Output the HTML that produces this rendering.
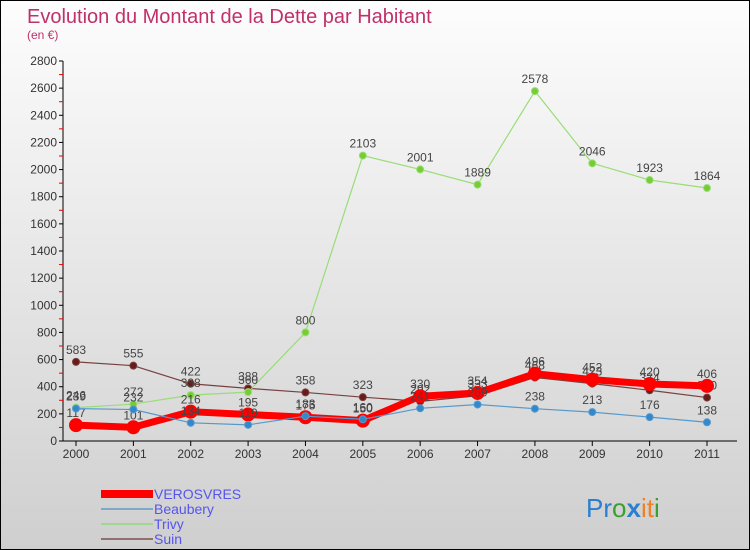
<!DOCTYPE html>
<html><head><meta charset="utf-8"><style>
body{margin:0;}
#c{width:748px;height:548px;border:1px solid #000;background:linear-gradient(#fdfdfd,#cfcfcf);position:relative;overflow:hidden;font-family:"Liberation Sans",sans-serif;}
</style></head><body>
<div id="c">
<svg id="s" width="748" height="548" xmlns="http://www.w3.org/2000/svg" font-family="Liberation Sans,sans-serif">
<text x="26" y="22" font-size="20" fill="#c0306a">Evolution du Montant de la Dette par Habitant</text>
<text x="26" y="38" font-size="12" fill="#c0306a">(en €)</text>
<g id="axes"></g><g id="series"></g>
<g>
<rect x="100" y="489" width="52" height="8" fill="#f00"/>
<text x="153" y="498" font-size="14" fill="#5555ee">VEROSVRES</text>
<line x1="100" y1="508" x2="152" y2="508" stroke="#7fa8c8" stroke-width="2"/>
<text x="153" y="513" font-size="14" fill="#5555ee">Beaubery</text>
<line x1="100" y1="523" x2="152" y2="523" stroke="#a0d890" stroke-width="2"/>
<text x="153" y="528" font-size="14" fill="#5555ee">Trivy</text>
<line x1="100" y1="538" x2="152" y2="538" stroke="#907070" stroke-width="2"/>
<text x="153" y="543" font-size="14" fill="#5555ee">Suin</text>
</g>
<text x="585" y="516" font-size="26"><tspan fill="#2a7fd0">Pr</tspan><tspan fill="#3aa030">o</tspan><tspan fill="#2a7fd0" font-weight="bold">x</tspan><tspan fill="#f08020">it</tspan><tspan fill="#3aa030">i</tspan></text>
</svg></div>
<script>
const years=["2000","2001","2002","2003","2004","2005","2006","2007","2008","2009","2010","2011"];
const yTicks=[0,200,400,600,800,1000,1200,1400,1600,1800,2000,2200,2400,2600,2800];
const verosvres=[117,101,216,195,175,150,330,354,496,452,420,406];
const beaubery=[239,232,134,119,183,160,241,269,238,213,176,138];
const trivy=[246,272,338,360,800,2103,2001,1889,2578,2046,1923,1864];
const suin=[583,555,422,388,358,323,292,333,468,423,374,320];
const NS="http://www.w3.org/2000/svg";
const X0=75,X1=706,Y0=440,Y1=60,MAX=2800;
const xs=i=>X0+i*(X1-X0)/(years.length-1);
const ys=v=>Y0-v*(Y0-Y1)/MAX;
function mk(t,a,p){const e=document.createElementNS(NS,t);for(const k in a)e.setAttribute(k,a[k]);p.appendChild(e);return e;}
const ax=document.getElementById('axes');
let yl=mk('line',{x1:62,y1:Y1,x2:62,y2:Y0,stroke:'#000'},ax);


let xl=mk('line',{x1:62,y1:Y0,x2:736,y2:Y0,stroke:'#000'},ax);


yTicks.forEach((v,i)=>{const y=ys(v);
 mk('line',{x1:58,y1:y,x2:62,y2:y,stroke:'#000'},ax);
 if(i<yTicks.length-1){mk('line',{x1:58,y1:ys(v+100),x2:62,y2:ys(v+100),stroke:'#e00'},ax);}
 const t=mk('text',{x:56,y:y+4,'font-size':12,fill:'#333','text-anchor':'end'},ax);t.textContent=v;
 
 
});
years.forEach((yr,i)=>{const x=xs(i);
 mk('line',{x1:x,y1:Y0,x2:x,y2:Y0+5,stroke:'#000'},ax);
 const t=mk('text',{x:x,y:Y0+17,'font-size':12,fill:'#333','text-anchor':'middle'},ax);t.textContent=yr;
 
 
});
const sg=document.getElementById('series');
function draw(name,data,color,w,r,fill){
 const g=mk('g',{},sg);
 
 
 mk('polyline',{points:data.map((v,i)=>xs(i)+','+ys(v)).join(' '),fill:'none',stroke:color,'stroke-width':w,'stroke-linejoin':'round'},g);
 data.forEach((v,i)=>{const c=mk('circle',{cx:xs(i),cy:ys(v),r:r,fill:fill,stroke:color,'stroke-width':1},g);
  
  
  const t=mk('text',{x:xs(i),y:ys(v)-8,'font-size':12,fill:'#444','text-anchor':'middle'},g);t.textContent=v;
  
  
 });
}
draw('suin',suin,'#7a4040',1.2,3.5,'#6a1a1a');
draw('trivy',trivy,'#99dd77',1.2,3.5,'#77cc33');
draw('verosvres',verosvres,'#f00',7,6.5,'#f00');
draw('beaubery',beaubery,'#5599cc',1.2,3.5,'#3388cc');
</script>
</body></html>
